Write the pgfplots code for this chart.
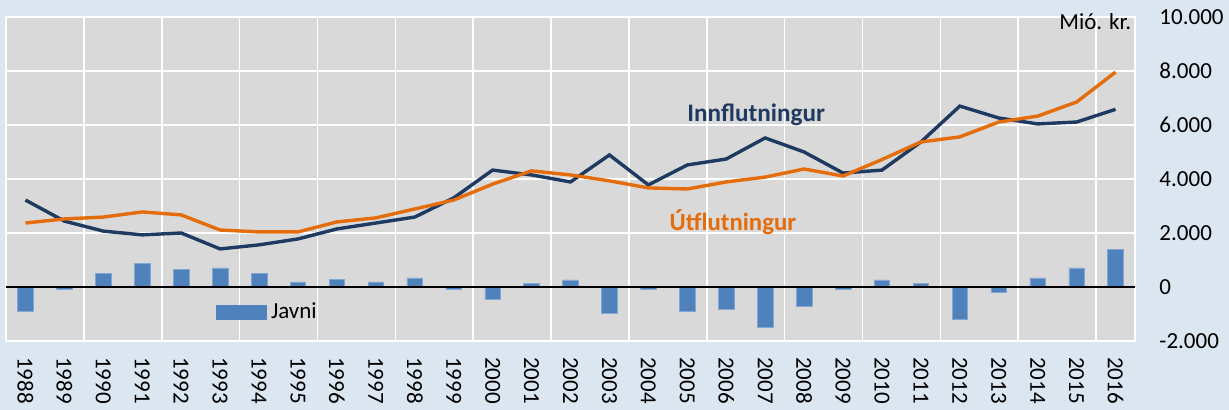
\documentclass[border=0pt]{standalone}
\usepackage{pgfplots}
\pgfplotsset{compat=1.18}
\usepackage{fontspec}
\setmainfont{Carlito}
\definecolor{bgblue}{HTML}{DCE6F1}
\definecolor{plotgrey}{HTML}{D9D9D9}
\definecolor{navy}{HTML}{1F3A60}
\definecolor{orangeL}{HTML}{E46C0A}
\definecolor{barblue}{HTML}{4F81BD}
\begin{document}
\begin{tikzpicture}
\fill[bgblue] (0,0) rectangle (614.5pt,205pt);
\begin{axis}[
  at={(3pt,34.5pt)}, anchor=south west,
  scale only axis, width=564.5pt, height=162pt,
  xmin=-0.5, xmax=28.5, ymin=-2000, ymax=10000,
  scaled y ticks=false,
  axis background/.style={fill=plotgrey},
  axis line style={white, line width=0.8pt},
  xtick={0,...,28},
  xticklabels={1988,1989,1990,1991,1992,1993,1994,1995,1996,1997,1998,1999,2000,2001,2002,2003,2004,2005,2006,2007,2008,2009,2010,2011,2012,2013,2014,2015,2016},
  minor xtick={1.5,3.5,...,27.5},
  xminorgrids=true, xmajorgrids=false, ymajorgrids=true,
  minor grid style={white, line width=0.8pt},
  major grid style={white, line width=0.8pt},
  ytick={-2000,0,2000,4000,6000,8000,10000},
  yticklabels={-2.000,0,2.000,4.000,6.000,8.000,10.000},
  yticklabel pos=right,
  major tick length=0pt, minor tick length=0pt,
  every tick label/.append style={font=\fontsize{11.5}{13}\selectfont, text=black},
  xticklabel style={rotate=-90, anchor=west},
  xticklabel shift=4.5pt,
  yticklabel style={anchor=west},
  yticklabel shift=8.7pt,
  legend style={draw=none, fill=none, at={(rel axis cs:0.186,0.0895)}, anchor=west, inner sep=0pt,
    font=\fontsize{11.5}{13}\selectfont},
  legend image code/.code={\fill[barblue] (0pt,-3.5pt) rectangle (25pt,3.5pt);},
  clip=false,
]
\addplot[ybar, bar width=0.4, bar shift=0pt, fill=barblue, draw=barblue!70!white, line width=0.3pt]
coordinates {
(0,-900) (1,-90) (2,490) (3,860) (4,640) (5,710) (6,490) (7,190) (8,270) (9,190)
(10,340) (11,-100) (12,-470) (13,120) (14,260) (15,-990) (16,-100) (17,-910) (18,-840) (19,-1500)
(20,-700) (21,-100) (22,260) (23,120) (24,-1210) (25,-180) (26,340) (27,710) (28,1390)
};
\addlegendentry{Javni}
\draw[black, line width=0.7pt] ({rel axis cs:0,0}|-{axis cs:0,0}) -- ({rel axis cs:1,0}|-{axis cs:0,0});
\addplot[forget plot, navy, line width=1.7pt] coordinates {
(0,3220) (1,2440) (2,2070) (3,1930) (4,2000) (5,1410) (6,1560) (7,1780) (8,2150) (9,2370)
(10,2590) (11,3300) (12,4330) (13,4150) (14,3890) (15,4890) (16,3780) (17,4520) (18,4740) (19,5520)
(20,5000) (21,4220) (22,4330) (23,5370) (24,6700) (25,6260) (26,6040) (27,6110) (28,6580)
};
\addplot[forget plot, orangeL, line width=1.7pt] coordinates {
(0,2370) (1,2520) (2,2590) (3,2780) (4,2670) (5,2110) (6,2040) (7,2040) (8,2410) (9,2560)
(10,2890) (11,3220) (12,3810) (13,4300) (14,4150) (15,3930) (16,3670) (17,3630) (18,3890) (19,4070)
(20,4370) (21,4110) (22,4720) (23,5370) (24,5560) (25,6110) (26,6330) (27,6850) (28,7960)
};
\node[font=\fontsize{12.6}{14}\selectfont\bfseries, text=navy] at (axis cs:18.77,6370) {Innflutningur};
\node[font=\fontsize{12.4}{14}\selectfont\bfseries, text=orangeL] at (axis cs:18.17,2390) {Útflutningur};
\node[font=\fontsize{11.5}{13}\selectfont, anchor=east, inner sep=0pt] at (rel axis cs:0.997,0.985) {Mió. kr.};
\end{axis}
\pgfresetboundingbox
\path (0,0) rectangle (614.5pt,205pt);
\end{tikzpicture}
\end{document}
